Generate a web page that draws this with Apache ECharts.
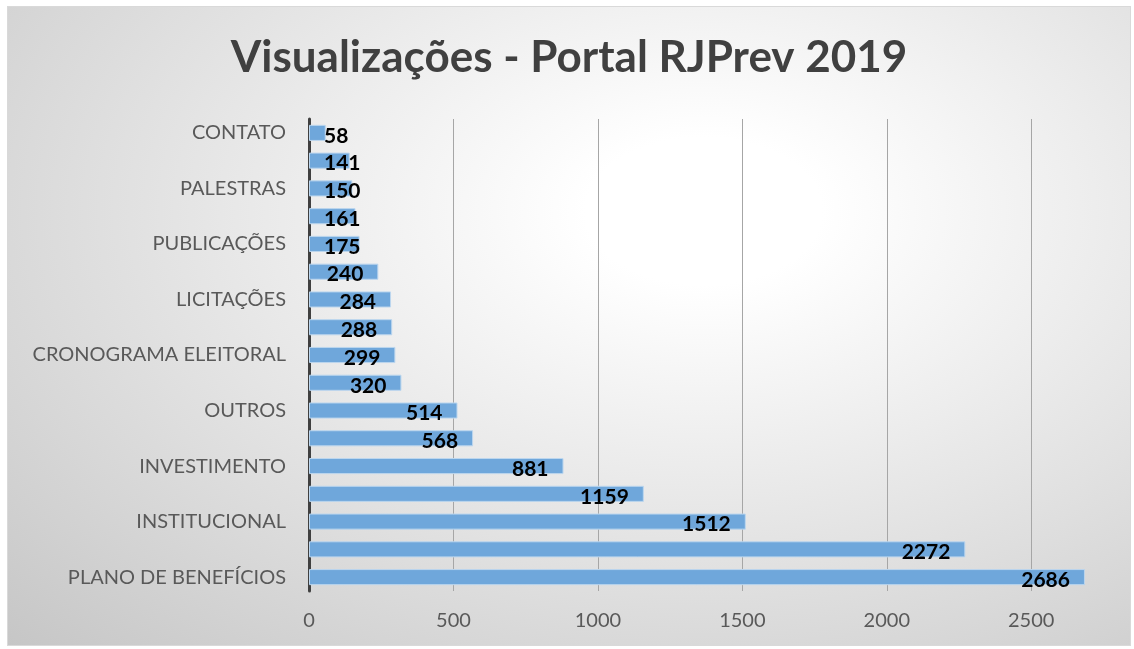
<!DOCTYPE html>
<html>
<head>
<meta charset="utf-8">
<script src="https://cdn.jsdelivr.net/npm/echarts@6/dist/echarts.min.js"></script>
<style>
    html, body { margin: 0; padding: 0; background: #fff; }
    .box {
        position: absolute;
        left: 7px;
        top: 6px;
        width: 1122px;
        height: 638px;
        border: 1px solid #d9d9d9;
        background: radial-gradient(ellipse farthest-corner at 62% 32%, #ffffff 12%, #c6c6c6 100%);
    }
    .chart { width: 1122px; height: 638px; }
</style>
</head>
<body>
<div class="box"><div class="chart"></div></div>
<script>
// 类目 (从下到上)
const categories = ['PLANO DE BENEFÍCIOS', '', 'INSTITUCIONAL', '', 'INVESTIMENTO', '', 'OUTROS', '',
    'CRONOGRAMA ELEITORAL', '', 'LICITAÇÕES', '', 'PUBLICAÇÕES', '', 'PALESTRAS', '', 'CONTATO']
const views = [2686, 2272, 1512, 1159, 881, 568, 514, 320, 299, 288, 284, 240, 175, 161, 150, 141, 58]
const xTicks = [0, 500, 1000, 1500, 2000, 2500]

;(function () {
    const el = document.querySelector('.chart')
    const chart = echarts.init(el)
    const font = 'Lato, "Open Sans", sans-serif'

    // 小数值标签放在柱子左侧
    const barData = views.map(v => {
        if (v < 200) {
            return { value: v, label: { position: 'insideLeft' } }
        }
        return v
    })

    const option = {
        backgroundColor: 'transparent',
        title: {
            text: 'Visualizações - Portal RJPrev 2019',
            left: 'center',
            top: 24,
            textStyle: {
                color: '#404040',
                fontSize: 44,
                fontWeight: 'bold',
                fontFamily: font
            }
        },
        grid: {
            left: 301,
            top: 112,
            width: 780,
            height: 472
        },
        xAxis: {
            type: 'value',
            min: 0,
            max: 2700,
            interval: 500,
            axisLine: { show: false },
            axisTick: { show: false, customValues: xTicks },
            axisLabel: {
                customValues: xTicks,
                formatter: v => String(v),
                color: '#595959',
                fontSize: 20,
                fontFamily: font,
                margin: 20
            },
            splitLine: {
                lineStyle: { color: '#a6a6a6', width: 1 }
            }
        },
        yAxis: {
            type: 'category',
            data: categories,
            axisTick: { show: false },
            axisLine: {
                lineStyle: { color: '#404040', width: 3 }
            },
            axisLabel: {
                interval: 0,
                color: '#595959',
                fontSize: 20,
                fontFamily: font,
                margin: 23
            }
        },
        series: [
            {
                type: 'bar',
                data: barData,
                barCategoryGap: '42%',
                itemStyle: {
                    color: '#6fa7db',
                    borderColor: '#bcd6ee',
                    borderWidth: 1
                },
                label: {
                    show: true,
                    position: 'insideRight',
                    distance: 15,
                    offset: [0, 3],
                    color: '#000',
                    fontSize: 21,
                    fontWeight: 'bold',
                    fontFamily: font
                }
            }
        ]
    }
    chart.setOption(option)
    window.addEventListener('resize', () => {
        chart.resize()
    })
})();
</script>
</body>
</html>
